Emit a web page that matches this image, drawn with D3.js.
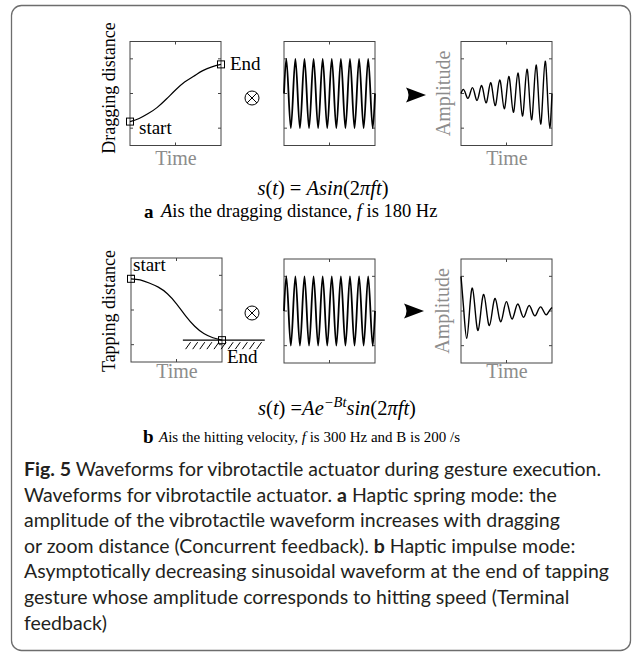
<!DOCTYPE html>
<html>
<head>
<meta charset="utf-8">
<script src="https://cdn.jsdelivr.net/npm/d3@7"></script>
<style>
  body { margin: 0; background: #fff; }
  svg text { font-family: "Liberation Serif", "Times New Roman", serif; }
  .cap { font-family: Lato, "Open Sans", sans-serif; font-size: 19.5px; fill: #231f20; }
</style>
</head>
<body>
<svg id="fig" width="637" height="652"></svg>
<script>
// left panels: gesture position over time (t from 0 to 1)
const dragT = [0, 0.1, 0.2, 0.3, 0.4, 0.5, 0.6, 0.7, 0.8, 0.9, 1]
const dragDistance = [-0.81, -0.72, -0.58, -0.4, -0.16, 0.1, 0.33, 0.5, 0.66, 0.77, 0.84]
const tapT = [0, 0.1, 0.2, 0.3, 0.4, 0.5, 0.6, 0.7, 0.8, 0.9, 1]
const tapDistance = [0.9, 0.87, 0.78, 0.66, 0.47, 0.18, -0.17, -0.47, -0.68, -0.8, -0.87]

// carrier sine: signed peak of each half cycle
const carrierPeaks = [1, -1, 1, -1, 1, -1, 1, -1, 1, -1, 1, -1, 1, -1, 1, -1, 1, -1, 1, -1]
// spring mode output: amplitude grows with distance
const springPeaks = [0.12, -0.14, 0.17, -0.2, 0.23, -0.27, 0.31, -0.35, 0.39, -0.44, 0.49, -0.54, 0.59, -0.65, 0.7, -0.76, 0.82, -0.88, 0.93, -0.98]
// impulse mode output: decaying, starts at a peak
const impulsePeaks = [1, -0.79, 0.66, -0.56, 0.48, -0.42, 0.36, -0.31, 0.27, -0.23, 0.2, -0.18, 0.16, -0.14, 0.12, -0.11, 0.1]

const yTicks = [-1, 0, 1]
const xTicks = [0.5]

const captionLines = [
  [["Fig. 5", true], ["  Waveforms for vibrotactile actuator during gesture execution.", false]],
  [["Waveforms for vibrotactile actuator. ", false], ["a", true], [" Haptic spring mode: the", false]],
  [["amplitude of the vibrotactile waveform increases with dragging", false]],
  [["or zoom distance (Concurrent feedback). ", false], ["b", true], [" Haptic impulse mode:", false]],
  [["Asymptotically decreasing sinusoidal waveform at the end of tapping", false]],
  [["gesture whose amplitude corresponds to hitting speed (Terminal", false]],
  [["feedback)", false]]
]

const svg = d3.select("#fig")

svg.append("rect")
  .attr("x", 11.5).attr("y", 5.5)
  .attr("width", 619).attr("height", 645)
  .attr("rx", 10)
  .attr("fill", "none").attr("stroke", "#6d6d6d").attr("stroke-width", 1.3)

function makePanel(x0, y0) {
  const w = 91, h = 104
  const x = d3.scaleLinear().domain([0, 1]).range([x0, x0 + w])
  const y = d3.scaleLinear().domain([-1.5, 1.5]).range([y0 + h, y0])
  const g = svg.append("g")
  g.append("rect")
    .attr("x", x0).attr("y", y0).attr("width", w).attr("height", h)
    .attr("fill", "none").attr("stroke", "#444").attr("stroke-width", 1)
  // mirrored inward ticks, matlab style
  const tl = 3
  g.selectAll(".xt").data(xTicks).enter().append("path")
    .attr("d", d => `M${x(d)},${y0 + h}v${-tl}M${x(d)},${y0}v${tl}`)
    .attr("stroke", "#444")
  g.selectAll(".yt").data(yTicks).enter().append("path")
    .attr("d", d => `M${x0},${y(d)}h${tl}M${x0 + w},${y(d)}h${-tl}`)
    .attr("stroke", "#444")
  return { g, x, y, x0, y0, w, h }
}

// extrema + zero crossings, smooth curve through them
function wavePoints(peaks, startAtPeak) {
  const n = peaks.length
  const pts = []
  if (startAtPeak) {
    const hstep = 1 / (n - 1)
    peaks.forEach((p, i) => {
      pts.push([i * hstep, p])
      if (i < n - 1) pts.push([(i + 0.5) * hstep, 0])
    })
  } else {
    const hstep = 1 / n
    pts.push([0, 0])
    peaks.forEach((p, i) => {
      pts.push([(i + 0.5) * hstep, p])
      pts.push([(i + 1) * hstep, 0])
    })
  }
  return pts
}

function drawWave(p, pts, sw) {
  const line = d3.line().x(d => p.x(d[0])).y(d => p.y(d[1])).curve(d3.curveNatural)
  p.g.append("path").attr("d", line(pts))
    .attr("fill", "none").attr("stroke", "#000").attr("stroke-width", sw)
}

function otimes(cx, cy) {
  const r = 7
  const g = svg.append("g").attr("stroke", "#000").attr("fill", "none").attr("stroke-width", 1)
  g.append("circle").attr("cx", cx).attr("cy", cy).attr("r", r)
  const d = r * Math.SQRT1_2
  g.append("path").attr("d", `M${cx - d},${cy - d}L${cx + d},${cy + d}M${cx - d},${cy + d}L${cx + d},${cy - d}`)
}

function arrowHead(tipX, cy) {
  svg.append("path")
    .attr("d", `M${tipX},${cy}L${tipX - 20},${cy - 7.5}Q${tipX - 15},${cy} ${tipX - 20},${cy + 7.5}Z`)
    .attr("fill", "#000")
}

function marker(p, t, v) {
  p.g.append("rect")
    .attr("x", p.x(t) - 3.5).attr("y", p.y(v) - 3.5)
    .attr("width", 7).attr("height", 7)
    .attr("fill", "none").attr("stroke", "#000").attr("stroke-width", 1)
}

function label(x, y, txt, opts) {
  const t = svg.append("text").attr("x", x).attr("y", y).text(txt)
    .attr("font-size", opts.size || 19)
    .attr("fill", opts.fill || "#000")
    .attr("text-anchor", opts.anchor || "start")
  if (opts.rot) t.attr("transform", `rotate(-90 ${x} ${y})`)
  return t
}

// ---------- row a ----------
const a1 = makePanel(130, 41.5)
drawWave(a1, dragT.map((t, i) => [t, dragDistance[i]]), 1.2)
marker(a1, 0, dragDistance[0])
marker(a1, 1, dragDistance[dragDistance.length - 1])
label(115, 88, "Dragging distance", { rot: true, anchor: "middle", size: 18 })
label(176, 165, "Time", { anchor: "middle", size: 20, fill: "#8c8c8c" })
label(230, 70, "End", {})
label(139, 134, "start", {})

otimes(252, 98)

const a2 = makePanel(284, 41.5)
drawWave(a2, wavePoints(carrierPeaks, false), 1.8)

arrowHead(426, 95)

const a3 = makePanel(461, 41.5)
drawWave(a3, wavePoints(springPeaks, false), 1.4)
label(450, 93.5, "Amplitude", { rot: true, anchor: "middle", size: 20, fill: "#8c8c8c" })
label(507, 165, "Time", { anchor: "middle", size: 20, fill: "#8c8c8c" })

const fa = svg.append("text").attr("x", 323).attr("y", 195).attr("text-anchor", "middle").attr("font-size", 20.5)
fa.append("tspan").attr("font-style", "italic").text("s")
fa.append("tspan").text("(")
fa.append("tspan").attr("font-style", "italic").text("t")
fa.append("tspan").text(") = ")
fa.append("tspan").attr("font-style", "italic").text("Asin")
fa.append("tspan").text("(2")
fa.append("tspan").attr("font-style", "italic").text("πft")
fa.append("tspan").text(")")

svg.append("text").attr("x", 144).attr("y", 218).text("a")
  .attr("font-family", "Liberation Sans, Arial, sans-serif").attr("font-weight", "bold").attr("font-size", 19)
const la = svg.append("text").attr("x", 161).attr("y", 217).attr("font-size", 18.5)
la.append("tspan").attr("font-style", "italic").text("A")
la.append("tspan").text("is the dragging distance, ")
la.append("tspan").attr("font-style", "italic").text("f")
la.append("tspan").text(" is 180 Hz")

// ---------- row b ----------
const b1 = makePanel(131, 258)
// floor under the end point
const floorY = tapDistance[tapDistance.length - 1]
b1.g.append("path")
  .attr("d", `M${b1.x(0.57)},${b1.y(floorY)}H${b1.x(1.47)}`)
  .attr("stroke", "#000").attr("stroke-width", 1.2)
const hatch = d3.range(0.6, 1.45, 0.078)
b1.g.selectAll(".hatch").data(hatch).enter().append("path")
  .attr("d", d => `M${b1.x(d) + 5},${b1.y(floorY) + 2}l-5,7`)
  .attr("stroke", "#000").attr("stroke-width", 1)
drawWave(b1, tapT.map((t, i) => [t, tapDistance[i]]), 1.2)
marker(b1, 0, tapDistance[0])
marker(b1, 1, floorY)
label(115, 311, "Tapping distance", { rot: true, anchor: "middle", size: 18 })
label(177, 378, "Time", { anchor: "middle", size: 20, fill: "#8c8c8c" })
label(133, 271, "start", {})
label(227, 363, "End", {})

otimes(252, 313)

const b2 = makePanel(284, 259)
drawWave(b2, wavePoints(carrierPeaks, false), 1.8)

arrowHead(424, 311)

const b3 = makePanel(461, 259)
drawWave(b3, wavePoints(impulsePeaks, true), 1.4)
label(449, 311, "Amplitude", { rot: true, anchor: "middle", size: 20, fill: "#8c8c8c" })
label(507, 378, "Time", { anchor: "middle", size: 20, fill: "#8c8c8c" })

const fb = svg.append("text").attr("x", 337).attr("y", 415).attr("text-anchor", "middle").attr("font-size", 20.5)
fb.append("tspan").attr("font-style", "italic").text("s")
fb.append("tspan").text("(")
fb.append("tspan").attr("font-style", "italic").text("t")
fb.append("tspan").text(") =")
fb.append("tspan").attr("font-style", "italic").text("Ae")
fb.append("tspan").attr("dy", -8).attr("font-size", 14.5).attr("font-style", "italic").text("−Bt")
fb.append("tspan").attr("dy", 8).attr("font-style", "italic").text("sin")
fb.append("tspan").text("(2")
fb.append("tspan").attr("font-style", "italic").text("πft")
fb.append("tspan").text(")")

svg.append("text").attr("x", 143).attr("y", 443).text("b")
  .attr("font-family", "Liberation Sans, Arial, sans-serif").attr("font-weight", "bold").attr("font-size", 19)
const lb = svg.append("text").attr("x", 159).attr("y", 442).attr("font-size", 15)
lb.append("tspan").attr("font-style", "italic").text("A")
lb.append("tspan").text("is the hitting velocity,  ")
lb.append("tspan").attr("font-style", "italic").text("f")
lb.append("tspan").text(" is 300 Hz and B is 200 /s")

// ---------- caption ----------
const cap = svg.append("g")
captionLines.forEach((parts, i) => {
  const t = cap.append("text").attr("class", "cap").attr("x", 24).attr("y", 476 + i * 25.6)
  parts.forEach(p => {
    t.append("tspan").attr("font-weight", p[1] ? "bold" : "normal").text(p[0])
  })
})
</script>
</body>
</html>
